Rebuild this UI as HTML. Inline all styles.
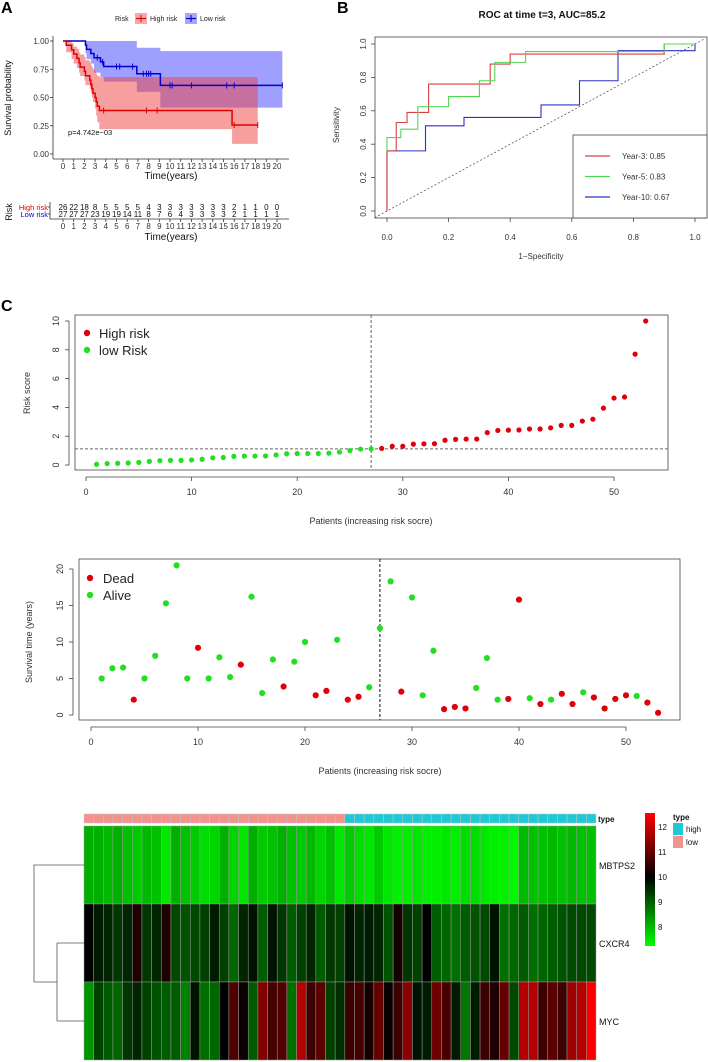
<!DOCTYPE html>
<html><head><meta charset="utf-8">
<style>
html,body{margin:0;padding:0;background:#fff;}
svg{display:block;font-family:"Liberation Sans",sans-serif;}
</style></head>
<body>
<svg id="fig" width="708" height="1062" viewBox="0 0 708 1062">
<text x="1" y="13" font-size="16" font-weight="bold">A</text>
<text x="337" y="13" font-size="16" font-weight="bold">B</text>
<text x="1" y="311" font-size="16" font-weight="bold">C</text>
<g id="gA"></g>
<g id="gB"></g>
<g id="gC1"></g>
<g id="gC2"></g>
<g id="gH"></g>
</svg>
<script>
// ---------- Panel A data ----------
const kmYears = [0,1,2,3,4,5,6,7,8,9,10,11,12,13,14,15,16,17,18,19,20];
const highRiskAtRisk = [26,22,18,8,5,5,5,5,4,3,3,3,3,3,3,3,2,1,1,0,0];
const lowRiskAtRisk = [27,27,27,23,19,19,14,11,8,7,6,4,3,3,3,3,2,1,1,1,1];
const highTimes = [0,0.3,0.8,1.0,1.3,1.5,1.6,2.0,2.1,2.5,2.6,2.7,2.8,3.0,3.1,3.2,3.4,15.8,18.2];
const highSurv  = [1,0.962,0.923,0.885,0.846,0.808,0.769,0.731,0.692,0.654,0.615,0.577,0.538,0.5,0.462,0.423,0.385,0.257,0.257];
const highUpper = [1,1,0.98,0.95,0.93,0.9,0.88,0.86,0.83,0.81,0.79,0.77,0.75,0.73,0.71,0.69,0.68,0.68,0.68];
const highLower = [1,0.9,0.84,0.8,0.76,0.72,0.69,0.65,0.61,0.58,0.54,0.5,0.46,0.4,0.34,0.28,0.22,0.09,0.09];
const highCensor = [3.8,7.8,8.8,16.0,18.2];
const lowTimes = [0,2.1,2.2,2.6,2.9,3.5,3.8,6.9,9.1,20.5];
const lowSurv  = [1,0.963,0.926,0.889,0.852,0.815,0.774,0.71,0.607,0.607];
const lowUpper = [1,1,1,1,1,1,1,0.94,0.91,0.91];
const lowLower = [1,0.89,0.84,0.8,0.72,0.68,0.64,0.55,0.41,0.41];
const lowCensor = [3.2,3.7,5.0,5.3,6.5,7.5,7.8,8.0,8.2,10.0,10.2,12.0,15.3,16.0,20.5];
const kmYTicks = [0,0.25,0.5,0.75,1];
const kmYLabels = ["0.00","0.25","0.50","0.75","1.00"];
// ---------- Panel B data ----------
const rocTicks = [0,0.2,0.4,0.6,0.8,1];
const rocTickLabels = ["0.0","0.2","0.4","0.6","0.8","1.0"];
const roc3X = [0,0,0.03,0.03,0.065,0.065,0.135,0.135,0.335,0.335,0.4,0.4,0.9,0.9,1];
const roc3Y = [0,0.36,0.36,0.53,0.53,0.59,0.59,0.76,0.76,0.88,0.88,0.94,0.94,1,1];
const roc5X = [0,0,0.045,0.045,0.1,0.1,0.2,0.2,0.3,0.3,0.35,0.35,0.45,0.45,0.9,0.9,1];
const roc5Y = [0.36,0.44,0.44,0.49,0.49,0.625,0.625,0.685,0.685,0.78,0.78,0.89,0.89,0.955,0.955,1,1];
const roc10X = [0,0,0.125,0.125,0.25,0.25,0.5,0.5,0.625,0.625,0.75,0.75,1,1];
const roc10Y = [0,0.36,0.36,0.51,0.51,0.56,0.56,0.635,0.635,0.78,0.78,0.96,0.96,1];
const rocLegend = ["Year-3: 0.85","Year-5: 0.83","Year-10: 0.67"];
// ---------- Panel C data ----------
const riskScores = [0.05,0.1,0.12,0.14,0.18,0.25,0.3,0.32,0.32,0.35,0.4,0.5,0.52,0.6,0.62,0.62,0.63,0.7,0.78,0.8,0.8,0.8,0.82,0.9,1.0,1.1,1.12,1.15,1.3,1.3,1.45,1.47,1.48,1.72,1.78,1.8,1.8,2.25,2.4,2.42,2.43,2.5,2.5,2.58,2.75,2.75,3.05,3.18,3.95,4.65,4.72,7.7,10];
const cutoffIndex = 27;
const cutoffScore = 1.12;
const riskYTicks = [0,2,4,6,8,10];
const patientTicks = [0,10,20,30,40,50];
const survTimes = [5,6.4,6.5,2.1,5,8.1,15.3,20.5,5,9.2,5,7.9,5.2,6.9,16.2,3,7.6,3.9,7.3,10,2.7,3.3,10.3,2.1,2.5,3.8,11.9,18.3,3.2,16.1,2.7,8.8,0.8,1.1,0.9,3.7,7.8,2.1,2.2,15.8,2.3,1.5,2.1,2.9,1.5,3.1,2.4,0.9,2.2,2.7,2.6,1.7,0.3];
const survDead = [0,0,0,1,0,0,0,0,0,1,0,0,0,1,0,0,0,1,0,0,1,1,0,1,1,0,0,0,1,0,0,0,1,1,1,0,0,0,1,1,0,1,0,1,1,0,1,1,1,1,0,1,1];
const survYTicks = [0,5,10,15,20];
// ---------- Heatmap data ----------
const genes = ["MBTPS2","CXCR4","MYC"];
const exprMBTPS2 = [8.1,8.1,8.0,8.1,7.9,7.8,8.0,7.9,7.5,8.1,7.9,7.8,7.6,7.7,8.1,7.7,7.5,8.1,7.8,7.9,8.1,7.9,7.8,8.0,7.7,7.9,7.5,7.8,7.6,7.5,7.8,7.5,7.4,7.4,7.5,7.4,7.4,7.5,7.4,7.6,7.6,7.5,7.4,7.4,7.3,8.0,7.9,7.9,8.0,7.9,8.0,7.9,7.9];
const exprCXCR4 = [10.0,9.7,9.6,9.4,9.6,10.3,9.4,9.6,10.3,9.2,9.1,9.2,9.3,9.7,9.3,8.9,9.6,9.8,9.0,9.8,9.4,9.0,9.3,9.6,9.0,9.4,9.3,9.8,9.6,9.7,9.6,9.1,10.2,9.4,9.3,10.0,9.0,8.9,8.8,9.0,9.1,9.2,9.8,8.8,8.9,9.0,8.8,8.9,9.0,9.1,9.2,9.2,9.2];
const exprMYC = [8.4,9.3,9.0,8.9,9.4,9.6,9.3,9.1,9.0,9.0,8.6,9.8,8.8,8.9,10.0,10.8,10.1,9.0,11.3,10.7,10.8,8.8,11.8,10.6,10.9,9.3,9.5,10.6,10.7,10.2,11.0,10.1,10.6,11.4,9.8,9.7,11.1,10.7,9.7,8.7,9.7,10.6,10.3,11.0,9.2,11.8,11.8,10.6,10.9,10.6,11.6,11.8,12.5];
const colorTicks = [8,9,10,11,12];

const NS="http://www.w3.org/2000/svg";
function mk(parent,tag,attrs,txt){const e=document.createElementNS(NS,tag);for(const k in attrs)e.setAttribute(k,attrs[k]);if(txt!==undefined)e.textContent=txt;parent.appendChild(e);return e;}
function line(p,x1,y1,x2,y2,st,w,dash){const e=mk(p,'line',{x1,y1,x2,y2,stroke:st||'#000','stroke-width':w||1});if(dash)e.setAttribute('stroke-dasharray',dash);return e;}
function stepPts(xs,ys,fx,fy){let s='';for(let i=0;i<xs.length;i++){if(i>0)s+=fx(xs[i])+','+fy(ys[i-1])+' ';s+=fx(xs[i])+','+fy(ys[i])+' ';}return s;}

// ===== Panel A =====
(function(){
const g=document.getElementById('gA');
const fx=t=>63+t*10.7, fy=v=>154-v*113;
let t=mk(g,'text',{x:115,y:21,'font-size':7,fill:'#222'},'Risk');

let r=mk(g,'rect',{x:135,y:13,width:12,height:11,fill:'#f8a8a8'});

line(g,136,18.5,146,18.5,'#e00000',1.2);line(g,141,15,141,22,'#e00000',1);
t=mk(g,'text',{x:150,y:21,'font-size':7,fill:'#222'},'High risk');

r=mk(g,'rect',{x:185,y:13,width:12,height:11,fill:'#a8a8f8'});

line(g,186,18.5,196,18.5,'#0000cc',1.2);line(g,191,15,191,22,'#0000cc',1);
t=mk(g,'text',{x:200,y:21,'font-size':7,fill:'#222'},'Low risk');

function band(xs,up,lo,fill,name){let s=stepPts(xs,up,fx,fy);const rx=xs.slice().reverse(),rl=lo.slice().reverse();
 for(let i=0;i<rx.length;i++){s+=fx(rx[i])+','+fy(rl[i])+' ';if(i<rx.length-1)s+=fx(rx[i])+','+fy(rl[i+1])+' ';}
 const p=mk(g,'polygon',{points:s,fill:fill,'fill-opacity':0.5});}
band(lowTimes,lowUpper,lowLower,'#4040ff','ci-band-low-risk');
band(highTimes,highUpper,highLower,'#f04040','ci-band-high-risk');
let pl=mk(g,'polyline',{points:stepPts(lowTimes,lowSurv,fx,fy),fill:'none',stroke:'#0000cc','stroke-width':1.5});

pl=mk(g,'polyline',{points:stepPts(highTimes,highSurv,fx,fy),fill:'none',stroke:'#e00000','stroke-width':1.5});

function surv(xs,ys,tt){let v=ys[0];for(let i=0;i<xs.length;i++)if(xs[i]<=tt)v=ys[i];return v;}
highCensor.forEach(c=>{const e=line(g,fx(c),fy(surv(highTimes,highSurv,c))-3,fx(c),fy(surv(highTimes,highSurv,c))+3,'#e00000',1);
 });
lowCensor.forEach(c=>{const e=line(g,fx(c),fy(surv(lowTimes,lowSurv,c))-3,fx(c),fy(surv(lowTimes,lowSurv,c))+3,'#0000cc',1);
 });
line(g,53,36,53,159,'#333',0.8);line(g,53,159,289,159,'#333',0.8);
kmYTicks.forEach((v,i)=>{line(g,50,fy(v),53,fy(v),'#333',0.8);
 const e=mk(g,'text',{x:49,y:fy(v)+3,'font-size':8,'text-anchor':'end',fill:'#333'},kmYLabels[i]);
 });
kmYears.forEach(yy=>{line(g,fx(yy),159,fx(yy),162,'#333',0.8);
 const e=mk(g,'text',{x:fx(yy),y:169,'font-size':8,'text-anchor':'middle',fill:'#333'},String(yy));
 });
t=mk(g,'text',{x:171,y:179,'font-size':10,'text-anchor':'middle',fill:'#111'},'Time(years)');

t=mk(g,'text',{x:11,y:98,'font-size':9,'text-anchor':'middle',fill:'#111',transform:'rotate(-90 11 98)'},'Survival probability');

t=mk(g,'text',{x:68,y:135,'font-size':7.5,fill:'#111'},'p=4.742e−03');

t=mk(g,'text',{x:12,y:212,'font-size':9,'text-anchor':'middle',fill:'#111',transform:'rotate(-90 12 212)'},'Risk');

t=mk(g,'text',{x:48,y:210,'font-size':7.5,'text-anchor':'end',fill:'#e00000'},'High risk');

t=mk(g,'text',{x:48,y:217,'font-size':7.5,'text-anchor':'end',fill:'#0000cc'},'Low risk');

line(g,50,202,50,219,'#333',0.8);line(g,48,207,50,207,'#333',0.8);line(g,48,214,50,214,'#333',0.8);
line(g,50,219,289,219,'#333',0.8);
kmYears.forEach((yy,i)=>{
 let e=mk(g,'text',{x:fx(yy),y:210,'font-size':8,'text-anchor':'middle',fill:'#111'},String(highRiskAtRisk[i]));
 
 e=mk(g,'text',{x:fx(yy),y:217,'font-size':8,'text-anchor':'middle',fill:'#111'},String(lowRiskAtRisk[i]));
 
 line(g,fx(yy),219,fx(yy),222,'#333',0.8);
 e=mk(g,'text',{x:fx(yy),y:229,'font-size':8,'text-anchor':'middle',fill:'#333'},String(yy));
 });
t=mk(g,'text',{x:171,y:240,'font-size':10,'text-anchor':'middle',fill:'#111'},'Time(years)');

})();

// ===== Panel B =====
(function(){
const g=document.getElementById('gB');
const fx=v=>387+v*308, fy=v=>211-v*167;
let t=mk(g,'text',{x:542,y:18,'font-size':10,'font-weight':'bold','text-anchor':'middle',fill:'#111'},'ROC at time t=3, AUC=85.2');

let r=mk(g,'rect',{x:375,y:37,width:332,height:181,fill:'none',stroke:'#444','stroke-width':0.8});

let d=line(g,fx(-0.04),fy(-0.04),fx(1.03),fy(1.03),'#444',0.7,'2,2');

function curve(xs,ys,c,name){const pts=xs.map((x,i)=>fx(x)+','+fy(ys[i])).join(' ');
 const p=mk(g,'polyline',{points:pts,fill:'none',stroke:c,'stroke-width':1.1});}
curve(roc10X,roc10Y,'#3030c8','roc-curve-year-10');
curve(roc3X,roc3Y,'#d84040','roc-curve-year-3');
curve(roc5X,roc5Y,'#50d850','roc-curve-year-5');
rocTicks.forEach((v,i)=>{line(g,fx(v),218,fx(v),222,'#444',0.8);
 let e=mk(g,'text',{x:fx(v),y:240,'font-size':8,'text-anchor':'middle',fill:'#333'},rocTickLabels[i]);
 
 line(g,371,fy(v),375,fy(v),'#444',0.8);
 e=mk(g,'text',{x:366,y:fy(v),'font-size':8,'text-anchor':'middle',fill:'#333',transform:'rotate(-90 366 '+fy(v)+')'},rocTickLabels[i]);
 });
t=mk(g,'text',{x:541,y:259,'font-size':8,'text-anchor':'middle',fill:'#333'},'1−Specificity');

t=mk(g,'text',{x:339,y:125,'font-size':8,'text-anchor':'middle',fill:'#333',transform:'rotate(-90 339 125)'},'Sensitivity');

r=mk(g,'rect',{x:573,y:135,width:134,height:83,fill:'#fff',stroke:'#444','stroke-width':0.8});

const cols=['#d84040','#50d850','#3030c8'];
rocLegend.forEach((s,i)=>{const yy=156+i*20.5;line(g,585,yy,610,yy,cols[i],1.3);
 const e=mk(g,'text',{x:622,y:yy+3,'font-size':8,fill:'#333'},s);});
})();

// ===== Panel C1 risk score =====
(function(){
const g=document.getElementById('gC1');
const fx=v=>86+v*10.56, fy=v=>465-v*14.4;
let r=mk(g,'rect',{x:75,y:315,width:593,height:155,fill:'none',stroke:'#444','stroke-width':0.8});

let d=line(g,fx(cutoffIndex),315,fx(cutoffIndex),470,'#666',1,'3,2');
d=line(g,75,fy(cutoffScore),668,fy(cutoffScore),'#666',1,'3,2');
riskScores.forEach((v,i)=>{const c=mk(g,'circle',{cx:fx(i+1),cy:fy(v),r:2.6,fill:(i+1)>cutoffIndex?'#e0000a':'#20e020'});
 });
line(g,fx(0),477,fx(50),477,'#444',0.8);
patientTicks.forEach(v=>{line(g,fx(v),477,fx(v),481,'#444',0.8);
 const e=mk(g,'text',{x:fx(v),y:495,'font-size':9,'text-anchor':'middle',fill:'#333'},String(v));});
line(g,69,fy(0),69,fy(10),'#444',0.8);
riskYTicks.forEach(v=>{line(g,65,fy(v),69,fy(v),'#444',0.8);
 const e=mk(g,'text',{x:59,y:fy(v),'font-size':9,'text-anchor':'middle',fill:'#333',transform:'rotate(-90 59 '+fy(v)+')'},String(v));});
let t=mk(g,'text',{x:30,y:393,'font-size':9,'text-anchor':'middle',fill:'#333',transform:'rotate(-90 30 393)'},'Risk score');

t=mk(g,'text',{x:371,y:524,'font-size':9,'text-anchor':'middle',fill:'#333'},'Patients (increasing risk socre)');

[['High risk','#e0000a',333],['low Risk','#20e020',350]].forEach(a=>{mk(g,'circle',{cx:87,cy:a[2],r:3.2,fill:a[1]});
 const e=mk(g,'text',{x:99,y:a[2]+5,'font-size':13,fill:'#222'},a[0]);});
})();

// ===== Panel C2 survival time =====
(function(){
const g=document.getElementById('gC2');
const fx=v=>91+v*10.7, fy=v=>715-v*7.3;
let r=mk(g,'rect',{x:79,y:559,width:601,height:161,fill:'none',stroke:'#444','stroke-width':0.8});

let d=line(g,fx(cutoffIndex),559,fx(cutoffIndex),720,'#111',1,'3,2');
survTimes.forEach((v,i)=>{const c=mk(g,'circle',{cx:fx(i+1),cy:fy(v),r:3.1,fill:survDead[i]?'#e0000a':'#20e020'});
 });
line(g,fx(0),727,fx(50),727,'#444',0.8);
patientTicks.forEach(v=>{line(g,fx(v),727,fx(v),731,'#444',0.8);
 const e=mk(g,'text',{x:fx(v),y:745,'font-size':9,'text-anchor':'middle',fill:'#333'},String(v));});
line(g,73,fy(0),73,fy(20),'#444',0.8);
survYTicks.forEach(v=>{line(g,69,fy(v),73,fy(v),'#444',0.8);
 const e=mk(g,'text',{x:63,y:fy(v),'font-size':9,'text-anchor':'middle',fill:'#333',transform:'rotate(-90 63 '+fy(v)+')'},String(v));});
let t=mk(g,'text',{x:32,y:642,'font-size':9,'text-anchor':'middle',fill:'#333',transform:'rotate(-90 32 642)'},'Survival time (years)');

t=mk(g,'text',{x:380,y:774,'font-size':9,'text-anchor':'middle',fill:'#333'},'Patients (increasing risk socre)');

[['Dead','#e0000a',578],['Alive','#20e020',595]].forEach(a=>{mk(g,'circle',{cx:90,cy:a[2],r:3.2,fill:a[1]});
 const e=mk(g,'text',{x:103,y:a[2]+5,'font-size':13,fill:'#222'},a[0]);});
})();

// ===== Heatmap =====
(function(){
const g=document.getElementById('gH');
const lo=7.24, mid=10.0, hi=12.56;
function col(v){if(v<=mid){const k=Math.max(0,Math.min(1,(mid-v)/(mid-lo)));return 'rgb(0,'+Math.round(255*k)+',0)';}
 const k=Math.max(0,Math.min(1,(v-mid)/(hi-mid)));return 'rgb('+Math.round(255*k)+',0,0)';}
const x0=84, cw=(596-84)/53, rowTop=[826,904,982], rh=78;
const data=[exprMBTPS2,exprCXCR4,exprMYC];
for(let j=0;j<53;j++){
 const a=mk(g,'rect',{x:x0+j*cw,y:814,width:cw,height:9,fill:(j+1)<=cutoffIndex?'#f4928e':'#1ec8d4',stroke:'#c8c8c8','stroke-width':0.5});
 }
data.forEach((arr,ri)=>{arr.forEach((v,j)=>{
 const c=mk(g,'rect',{x:x0+j*cw,y:rowTop[ri],width:cw,height:rh,fill:col(v),stroke:'#9a9a9a','stroke-width':0.5});
 });
 const e=mk(g,'text',{x:599,y:rowTop[ri]+rh/2+4,'font-size':9,fill:'#111'},genes[ri]);});
let t=mk(g,'text',{x:598,y:822,'font-size':8,'font-weight':'bold',fill:'#111'},'type');

const dd='M84,865 H34 V982 H57 M57,943 V1021 M57,943 H84 M57,1021 H84';
const p=mk(g,'path',{d:dd,fill:'none',stroke:'#555','stroke-width':0.8});
const defs=mk(g,'defs',{});const gr=mk(defs,'linearGradient',{id:'cb',x1:0,y1:1,x2:0,y2:0});
mk(gr,'stop',{offset:'0','stop-color':'#00ff00'});mk(gr,'stop',{offset:String((mid-lo)/(hi-lo)),'stop-color':'#000000'});mk(gr,'stop',{offset:'1','stop-color':'#ff0000'});
const cy=v=>827+(12-v)*25;
const cb=mk(g,'rect',{x:645,y:cy(hi),width:10,height:cy(lo)-cy(hi),fill:'url(#cb)'});

colorTicks.forEach(v=>{const e=mk(g,'text',{x:658,y:cy(v)+3,'font-size':8,fill:'#111'},String(v));});
t=mk(g,'text',{x:673,y:820,'font-size':8,'font-weight':'bold',fill:'#111'},'type');

[['high','#1ec8d4',823],['low','#f4928e',836]].forEach(a=>{const rr=mk(g,'rect',{x:673,y:a[2],width:10,height:12,fill:a[1]});
 
 const e=mk(g,'text',{x:686,y:a[2]+9,'font-size':8,fill:'#111'},a[0]);});
})();
</script>
</body></html>
